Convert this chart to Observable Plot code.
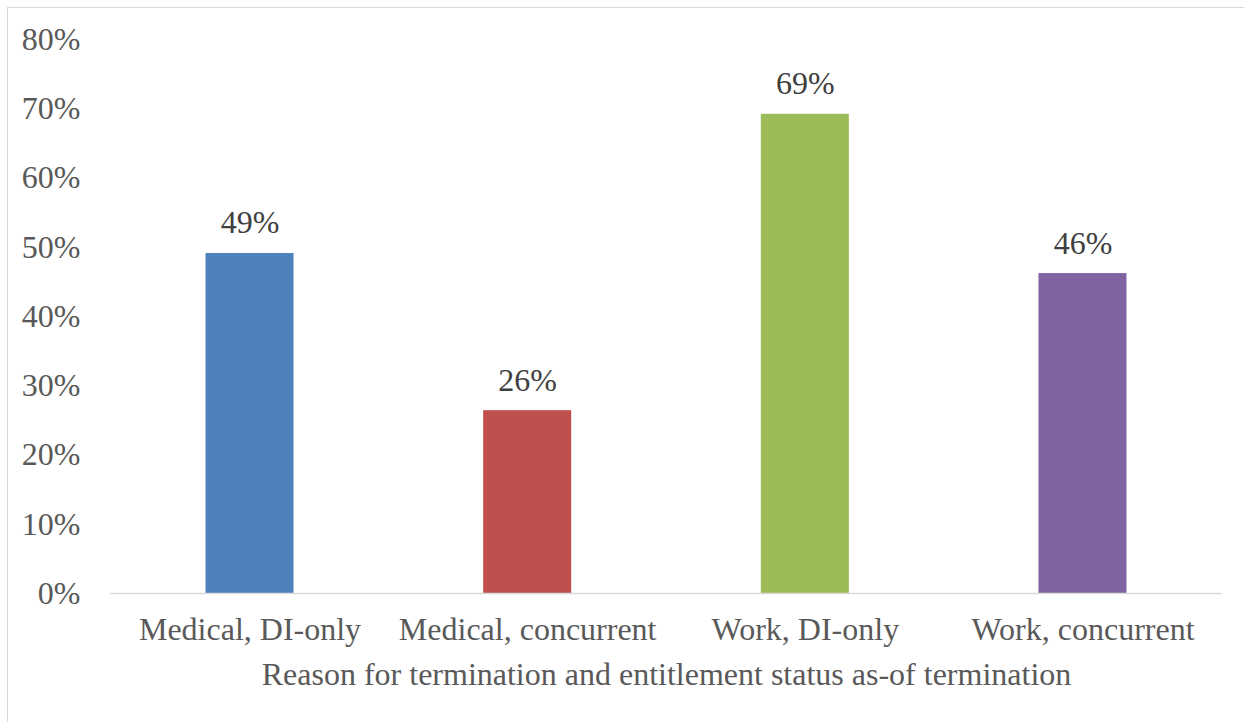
<!DOCTYPE html>
<html>
<head>
<meta charset="utf-8">
<script src="https://cdn.jsdelivr.net/npm/d3@7"></script>
<script src="https://cdn.jsdelivr.net/npm/@observablehq/plot@0.6"></script>
<style>
  html, body { margin: 0; padding: 0; background: #fff; width: 1244px; height: 722px; overflow: hidden; }
  #frame { position: absolute; left: 7px; top: 7px; width: 1237px; height: 715px;
           border-left: 1px solid #d9d9d9; border-top: 1px solid #d9d9d9; box-sizing: border-box; }
  #chart { position: absolute; left: 0; top: 0; }
</style>
</head>
<body>
<div id="frame"><div id="chart"></div></div>
<script>
const categories = ["Medical, DI-only", "Medical, concurrent", "Work, DI-only", "Work, concurrent"];
const values = [0.491, 0.264, 0.692, 0.462];
const valueLabels = ["49%", "26%", "69%", "46%"];
const colors = ["#4F81BD", "#C0504D", "#9BBB59", "#8064A2"];
const yTicks = [0, 0.1, 0.2, 0.3, 0.4, 0.5, 0.6, 0.7, 0.8];
const xTitle = "Reason for termination and entitlement status as-of termination";

const data = categories.map((c, i) => ({category: c, value: values[i], label: valueLabels[i]}));
const pct = d3.format(".0%");
const font = "'Liberation Serif', 'Times New Roman', serif";

const chart = Plot.plot({
  width: 1236,
  height: 714,
  marginLeft: 102,
  marginRight: 22,
  marginTop: 31,
  marginBottom: 129,
  style: {fontFamily: font, fontSize: "32px", color: "#595959", background: "white"},
  x: {domain: categories, paddingInner: 0.683, paddingOuter: 0.344, round: false, label: null},
  y: {domain: [0, 0.8], label: null},
  color: {domain: categories, range: colors},
  marks: [
    Plot.axisY({ticks: yTicks, tickSize: 0, tickPadding: 30, tickFormat: pct, label: null, fontSize: 32, fontFamily: font}),
    Plot.axisX({tickSize: 0, tickPadding: 24, label: xTitle, labelAnchor: "center", labelOffset: 91, labelArrow: "none", fontSize: 32, fontFamily: font}),
    Plot.barY(data, {x: "category", y: "value", fill: "category"}),
    Plot.ruleY([0], {stroke: "#d9d9d9", strokeWidth: 1.5}),
    Plot.text(data, {x: "category", y: "value", text: "label", dy: -20, lineAnchor: "bottom", fill: "#404040", fontSize: 32, fontFamily: font})
  ]
});
document.getElementById("chart").appendChild(chart);
</script>
</body>
</html>
